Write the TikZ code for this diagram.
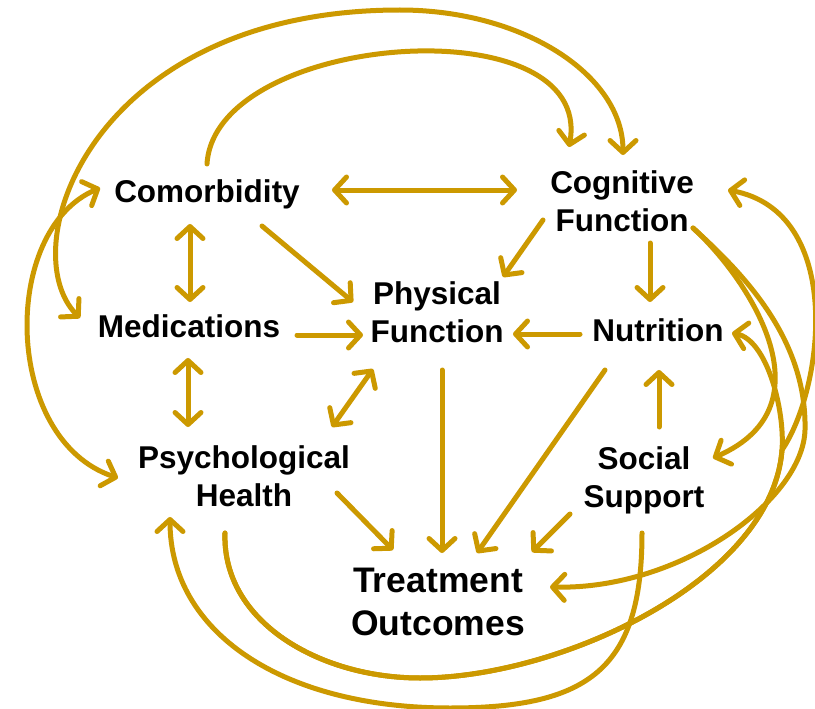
\documentclass[tikz,border=0pt]{standalone}
\usepackage{fontspec}
\setmainfont{Liberation Sans}
\usetikzlibrary{arrows.meta,calc}
\definecolor{gold}{RGB}{204,153,0}
\begin{document}
\begin{tikzpicture}[x=1pt,y=-1pt,
  lbl/.style={align=center,inner sep=0pt,font=\fontsize{31.5}{38.5}\selectfont\bfseries},
  biglbl/.style={align=center,inner sep=0pt,font=\fontsize{35.5}{43}\selectfont\bfseries},
  conn/.style={draw=gold,line width=5pt,line cap=round,line join=round},
  arr/.style={conn,-{Straight Barb[length=12pt,width=26pt,round]}},
  darr/.style={conn,{Straight Barb[length=12pt,width=26pt,round]}-{Straight Barb[length=12pt,width=26pt,round]}}]
\useasboundingbox (0,0) rectangle (815,709);
\fill[white] (0,0) rectangle (815,709);
% nodes
\node[lbl] (com) at (207,195) {Comorbidity\strut};
\node[lbl] (cf) at (622,205) {Cognitive\strut\\Function\strut};
\node[lbl] (pf) at (437,316) {Physical\strut\\Function\strut};
\node[lbl] (med) at (189,330) {Medications\strut};
\node[lbl] (nut) at (658,334) {Nutrition\strut};
\node[lbl] (psy) at (244,480) {Psychological\strut\\Health\strut};
\node[lbl] (ss) at (644,481) {Social\strut\\Support\strut};
\node[biglbl] (tout) at (438,605) {Treatment\strut\\Outcomes\strut};
% straight connectors
\draw[darr] ($(com)+(125,-5)$) -- ($(cf)+(-105,-15)$);
\draw[darr] ($(com)+(-17,29)$) -- ($(med)+(1,-28)$);
\draw[darr] ($(med)+(-1,28)$) -- ($(psy)+(-56,-53)$);
\draw[arr] ($(com)+(55,31)$) -- ($(pf)+(-84,-14)$);
\draw[arr] ($(med)+(108,5)$) -- ($(pf)+(-74,19)$);
\draw[darr] ($(psy)+(88,-53)$) -- ($(pf)+(-64,53)$);
\draw[arr] ($(cf)+(-79,15)$) -- ($(pf)+(66,-39)$);
\draw[arr] ($(cf)+(28,38)$) -- ($(nut)+(-8,-32)$);
\draw[arr] ($(nut)+(-78,0)$) -- ($(pf)+(76,18)$);
\draw[arr] ($(pf)+(5,54)$) -- ($(tout)+(4,-52)$);
\draw[arr] ($(nut)+(-53,36)$) -- ($(tout)+(39,-52)$);
\draw[arr] ($(ss)+(15,-54)$) -- ($(nut)+(1,36)$);
\draw[arr] ($(ss)+(-74,33)$) -- ($(tout)+(94,-53)$);
\draw[arr] ($(psy)+(93,13)$) -- ($(tout)+(-45,-55)$);
% curved connectors
\draw[arr] ($(com)+(0,-31)$) .. controls (215,32) and (595,4) .. ($(cf)+(-53,-58)$);
\draw[darr] ($(med)+(-109,-12)$) .. controls (12,250) and (90,10) .. (400,10) .. controls (523,10) and (623,75) .. ($(cf)+(1,-50)$);
\draw[darr] ($(com)+(-107,-7)$) .. controls (0,230) and (3,440) .. ($(psy)+(-126,-2)$);
\draw[arr] ($(ss)+(-2,52)$) .. controls (642,668) and (590,708) .. (450,708) .. controls (282,708) and (170,632) .. ($(psy)+(-74,37)$);
\draw[arr] ($(psy)+(-19,53)$) .. controls (222,622) and (320,678) .. (420,678) .. controls (560,678) and (772,580) .. (782,450) .. controls (785,410) and (767,340) .. ($(nut)+(74,-1)$);
\draw[arr] ($(psy)+(-19,53)$) .. controls (222,622) and (320,678) .. (420,678) .. controls (560,678) and (772,580) .. (782,450) .. controls (824,388) and (845,212) .. ($(cf)+(106,-15)$);
\draw[arr] ($(cf)+(71,23)$) .. controls (745,275) and (835,405) .. ($(ss)+(69,-23)$);
\draw[arr] ($(cf)+(71,23)$) .. controls (745,275) and (807,340) .. (805,430) .. controls (803,500) and (680,590) .. ($(tout)+(112,-18)$);
\end{tikzpicture}
\end{document}
